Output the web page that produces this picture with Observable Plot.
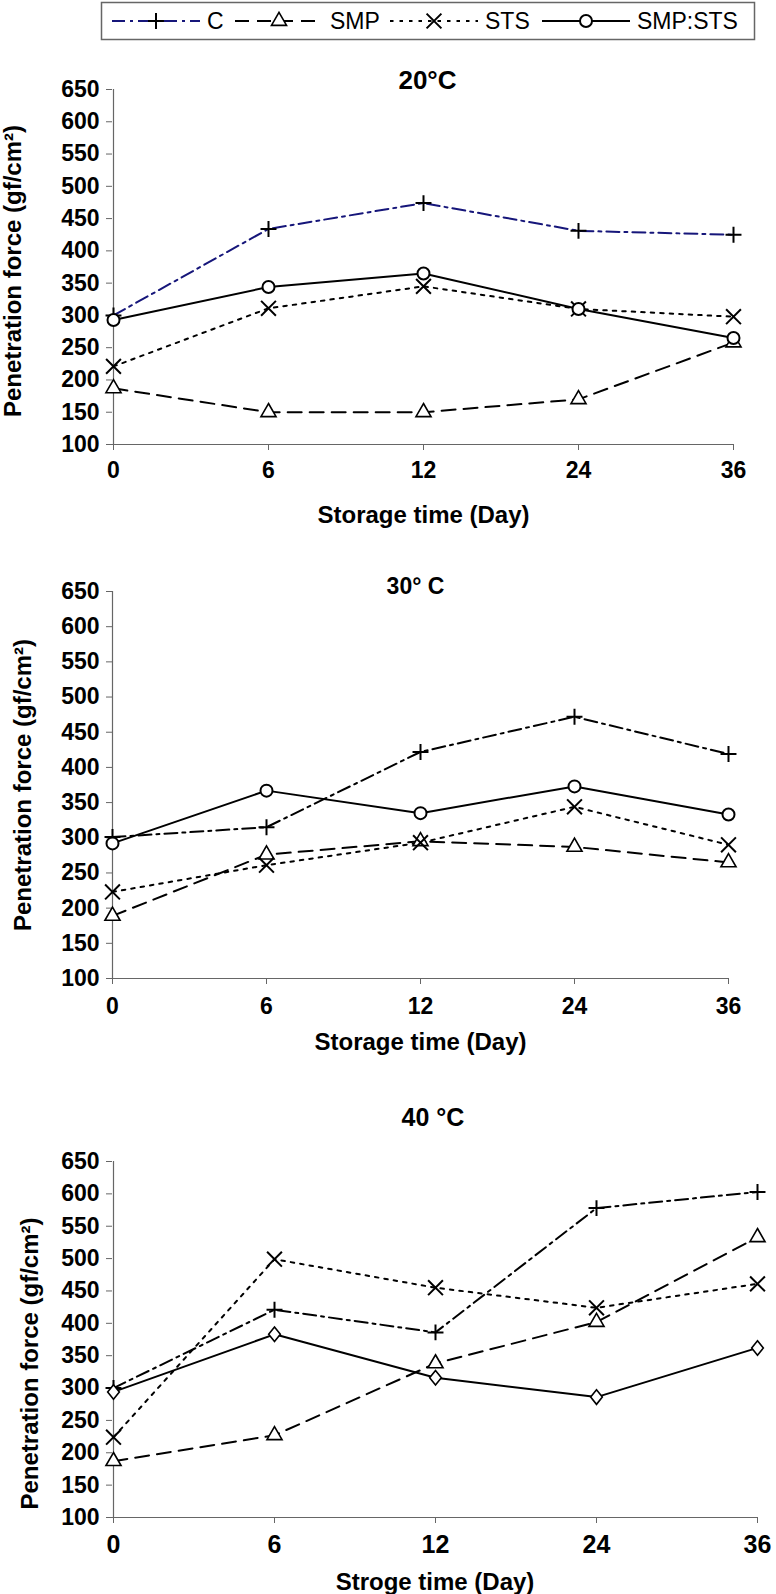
<!DOCTYPE html>
<html><head><meta charset="utf-8">
<script src="https://cdn.jsdelivr.net/npm/d3@7"></script>
<script src="https://cdn.jsdelivr.net/npm/@observablehq/plot@0.6"></script>
<style>
body{margin:0;background:#fff;}
#root{width:776px;}
#root svg{display:block;}
[aria-label="y-axis tick"],[aria-label="x-axis tick"]{stroke:#666;}
</style></head><body><div id="root"></div>
<script>
// ---------- data ----------
const days = ["0", "6", "12", "24", "36"];
const seriesNames = ["C", "SMP", "STS", "SMP:STS"];
const yTicks = [100, 150, 200, 250, 300, 350, 400, 450, 500, 550, 600, 650];

// 20 °C
const c20 = [300, 434, 474, 431, 425];
const smp20 = [187, 150, 150, 170, 258];
const sts20 = [221, 311, 345, 310, 298];
const mix20 = [293, 344, 365, 310, 265];
// 30 °C
const c30 = [301, 315, 422, 472, 419];
const smp30 = [189, 276, 295, 287, 265];
const sts30 = [223, 261, 293, 344, 290];
const mix30 = [292, 367, 335, 373, 333];
// 40 °C
const c40 = [300, 421, 386, 578, 603];
const smp40 = [187, 227, 338, 402, 533];
const sts40 = [224, 499, 455, 424, 461];
const mix40 = [294, 383, 316, 286, 362];

const titles = ["20°C", "30° C", "40 °C"];
const xLabels = ["Storage time (Day)", "Storage time (Day)", "Stroge time (Day)"];
const yLabel = "Penetration force (gf/cm²)";

// ---------- styles ----------
const FONT = "'Liberation Sans', Arial, Helvetica, sans-serif";
const diamond = {
  draw(ctx, size) {
    const s = Math.sqrt(size), h = s * 0.62, w = s * 0.5;
    ctx.moveTo(0, -h); ctx.lineTo(w, 0); ctx.lineTo(0, h); ctx.lineTo(-w, 0); ctx.closePath();
  }
};
function seriesStyle(name, panelIdx) {
  switch (name) {
    case "C": return {line: panelIdx === 0 ? "#16167a" : "#000", dash: "13,5,3,5", curve: "linear",
      dot: {symbol: "plus", r: 5.2, stroke: "#000", strokeWidth: 2}};
    case "SMP": return {line: "#000", dash: "14,8", curve: "linear",
      dot: {symbol: "triangle", r: 5.6, fill: "#fff", stroke: "#000", strokeWidth: 1.6}};
    case "STS": return {line: "#000", dash: "3.5,6", curve: "linear",
      dot: {symbol: "times", r: 6.8, stroke: "#000", strokeWidth: 2}};
    default: return {line: "#000", dash: null, curve: "linear",
      dot: panelIdx === 2 ? {symbol: diamond, r: 6.6, fill: "#fff", stroke: "#000", strokeWidth: 1.6}
                          : {symbol: "circle", r: 6, fill: "#fff", stroke: "#000", strokeWidth: 2}};
  }
}

// ---------- legend ----------
(function legend() {
  const svg = d3.select("#root").append("svg").attr("width", 776).attr("height", 50);
  svg.append("rect").attr("x", 101.5).attr("y", 2.5).attr("width", 653).attr("height", 37)
    .attr("fill", "#fff").attr("stroke", "#666").attr("stroke-width", 1.5);
  const starts = [112, 235, 390, 542];
  const cy = 21;
  const map = {plus: d3.symbolPlus, triangle: d3.symbolTriangle, times: d3.symbolTimes, circle: d3.symbolCircle};
  seriesNames.forEach((name, i) => {
    const st = seriesStyle(name, 0);
    const x0 = starts[i], x1 = x0 + 88;
    svg.append("line").attr("x1", x0).attr("x2", x1).attr("y1", cy).attr("y2", cy)
      .attr("stroke", st.line).attr("stroke-width", 2).attr("stroke-dasharray", st.dash);
    const type = map[st.dot.symbol] || st.dot.symbol;
    svg.append("path").attr("transform", `translate(${(x0 + x1) / 2},${cy})`)
      .attr("d", d3.symbol(type, Math.PI * st.dot.r * st.dot.r)())
      .attr("fill", st.dot.fill || "none").attr("stroke", st.dot.stroke).attr("stroke-width", st.dot.strokeWidth);
    svg.append("text").attr("x", x1 + 7).attr("y", cy).attr("dy", "0.36em")
      .attr("font-family", FONT).attr("font-size", 23).text(name);
  });
})();

// ---------- panels ----------
const panels = [
  {vals: [c20, smp20, sts20, mix20], height: 490, mt: 39, mb: 96, mr: 42, tickPad: 11, tickFont: 23,
   titleSize: 26, titleDx: 4, titleDy: -9, xlDy: 71, ylDx: -99, ylDy: 4},
  {vals: [c30, smp30, sts30, mix30], height: 520, mt: 51, mb: 82, mr: 48, tickPad: 13, tickFont: 23,
   titleSize: 23, titleDx: -5, titleDy: -5, xlDy: 64, ylDx: -89, ylDy: 0},
  {vals: [c40, smp40, sts40, mix40], height: 534, mt: 101, mb: 77, mr: 19, tickPad: 12, tickFont: 25,
   titleSize: 25, titleDx: -2, titleDy: -44, xlDy: 65, ylDx: -82, ylDy: 24}
];

panels.forEach((p, pi) => {
  const rows = [];
  seriesNames.forEach((name, si) => days.forEach((d, i) => rows.push({day: d, series: name, v: p.vals[si][i]})));
  const marks = [
    Plot.ruleY([100], {stroke: "#666", strokeWidth: 1.2}),
    Plot.ruleX([days[0]], {stroke: "#666", strokeWidth: 1.2}),
    Plot.axisY(yTicks, {tickSize: 6, tickPadding: 7, fontSize: 23, fontWeight: "bold", label: null}),
    Plot.axisX({tickSize: 6, tickPadding: p.tickPad, fontSize: p.tickFont, fontWeight: "bold", label: null})
  ];
  seriesNames.forEach(name => {
    const st = seriesStyle(name, pi);
    const data = rows.filter(r => r.series === name);
    marks.push(Plot.line(data, {x: "day", y: "v", stroke: st.line, strokeWidth: 2,
      strokeDasharray: st.dash || undefined, curve: st.curve}));
  });
  seriesNames.forEach(name => {
    const st = seriesStyle(name, pi);
    const data = rows.filter(r => r.series === name);
    marks.push(Plot.dot(data, {x: "day", y: "v", ...st.dot}));
  });
  marks.push(
    Plot.text([titles[pi]], {frameAnchor: "top", text: d => d, fontSize: p.titleSize, fontWeight: "bold",
      textAnchor: "middle", lineAnchor: "middle", dx: p.titleDx, dy: p.titleDy, fill: "#000"}),
    Plot.text([xLabels[pi]], {frameAnchor: "bottom", text: d => d, fontSize: 24, fontWeight: "bold",
      textAnchor: "middle", lineAnchor: "middle", dy: p.xlDy, fill: "#000"}),
    Plot.text([yLabel], {frameAnchor: "left", text: d => d, fontSize: 24, fontWeight: "bold",
      rotate: -90, textAnchor: "middle", lineAnchor: "middle", dx: p.ylDx, dy: p.ylDy, fill: "#000"})
  );
  const chart = Plot.plot({
    width: 776, height: p.height,
    marginLeft: 112, marginRight: p.mr, marginTop: p.mt, marginBottom: p.mb,
    x: {type: "point", domain: days, padding: 0},
    y: {domain: [100, 650]},
    style: {fontFamily: FONT, color: "#000", background: "#fff", overflow: "visible"},
    marks
  });
  document.getElementById("root").appendChild(chart);
});
</script></body></html>
